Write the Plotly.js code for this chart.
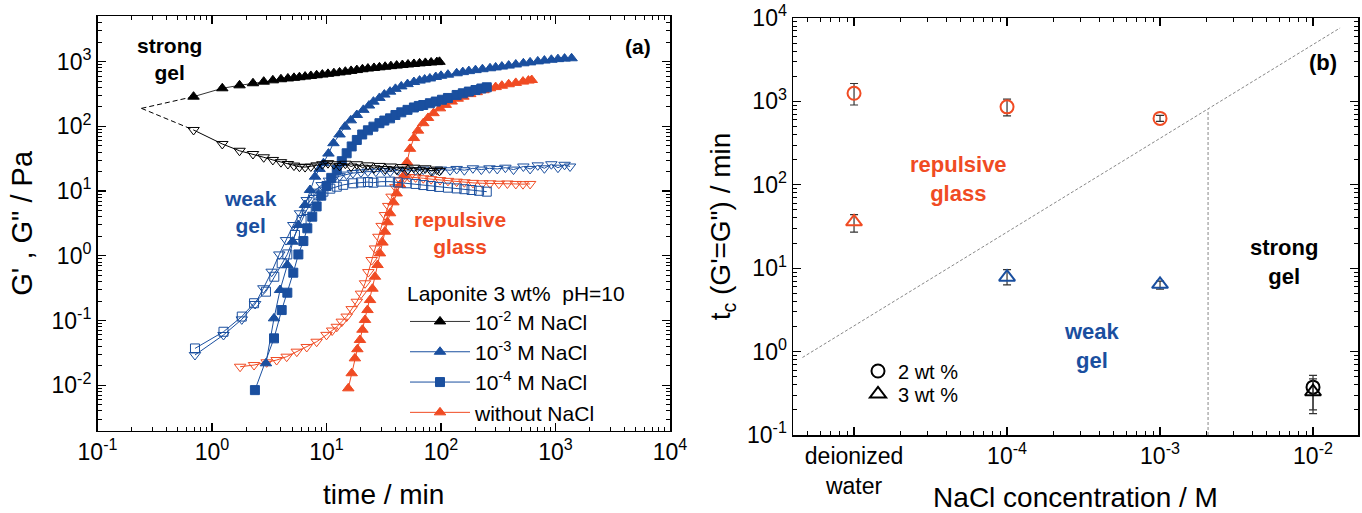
<!DOCTYPE html>
<html><head><meta charset="utf-8">
<script src="https://cdn.plot.ly/plotly-3.0.1.min.js"></script>
<style>html,body{margin:0;padding:0;background:#fff;} #chart{width:1362px;height:513px;}</style>
</head><body><div id="chart"></div>
<script>
// ---------------- Panel (a) data : time / min  vs  G', G'' / Pa ----------------
// 10^-2 M NaCl (strong gel)
const tBlack   = [0.69,1.23,1.74,2.28,2.83,3.4,4.0,4.6,5.2,5.8,6.5,7.3,8.2,9.2,10.3,11.6,13,14.6,16.4,18.4,20.6,23,26,29,32.5,36.5,41,46,51.5,58,65,73,82,92,97];
const gpBlack  = [288,388,431,464,491,515,535,550,563,575,588,602,617,632,648,664,682,700,720,742,764,783,800,818,835,853,870,888,905,922,940,957,972,985,995];
const gppBlack = [88,53.5,42,37.4,33.3,30.3,28,26.2,24.8,23.8,23.5,24,25,26,27,26,24.5,26.5,24,26,23,25,22.5,24.5,22,24,21.5,23.5,21.5,23,21,22.5,20.5,21.5,20.5];
// dashed extrapolation of the strong gel to short times
const tExtrap   = [0.242,0.69];
const gpExtrap  = [190,288];
const gppExtrap = [190,88];
// 10^-3 M NaCl
const tp3  = [2.96,3.48,3.93,4.55,5.07,5.68,6.49,7.18,7.94,8.7,9.4,10.4,11.5,13,14.5,16.3,18.4,21,23.5,25.7,29,32,35.9,40,45,51,58,65,72,80,90,100,115,137,155,175,200,230,268,300,340,390,450,524,600,700,800,920,1050,1200,1382];
const gp3  = [0.0218,0.108,0.296,0.72,1.65,2.99,6.1,10.4,16.7,22,27,38,55,75,99,124,150,180,210,241,275,310,344,380,415,450,485,510,530,550,580,605,630,662,690,715,740,765,791,815,840,870,905,944,975,1010,1040,1070,1095,1115,1129];
const tpp3 = [0.71,1.26,1.82,2.38,2.81,3.32,3.87,4.43,5.13,5.87,6.72,7.67,9.08,10.5,11.5,13,15,17,20,23,27,32,36,42,50,60,70,85,100,120,137,160,190,225,265,310,365,430,524,600,700,800,920,1050,1200,1340];
const gpp3 = [0.0293,0.0597,0.104,0.18,0.315,0.568,1.05,1.75,2.99,4.54,7.27,9.8,12.4,14.5,15.8,17,18,19,19.5,20,20,20.5,20,21,20.5,21,21.5,20.5,21.5,21,22,21,22.5,21.5,22.5,22,23,21.5,24,22,25,22.5,26,23,25.5,24];
// 10^-4 M NaCl
const tp4  = [2.37,3.48,4.06,4.55,5.13,5.68,6.28,6.8,7.51,8.2,9.0,10,11,12.3,13.6,15,16.6,18.4,20.5,23,25.7,29,32,35.9,40,45,51,58,64,70,80,90,102,115,137,155,175,200,225,251];
const gp4  = [0.0084,0.053,0.145,0.269,0.548,1.05,1.69,2.66,4.02,5.8,8.5,12,16,21.2,29,38.4,49,61.7,75,87,99,112,123,133,150,165,180,196,207,214,228,242,258,275,306,325,345,365,385,402];
const tpp4 = [0.71,1.26,1.82,2.33,2.96,3.5,4.06,4.55,5.3,6.06,6.72,7.67,8.5,9.4,10.8,12.3,14,17.1,20,23,25.7,30,35.9,42,50,60,70,82,96,115,137,160,185,215,251];
const gpp4 = [0.037,0.067,0.115,0.185,0.279,0.475,0.766,1.05,2.1,3.57,5.1,7.3,8.6,9.8,10.9,11.7,12.5,13.2,13.6,13.8,13.5,14,14,13.6,13.2,12.9,12.4,12,11.6,11.3,11,10.7,10.4,10.1,9.8];
// without NaCl (repulsive glass)
const tpR  = [15.5,16.6,17.7,18.6,19.6,20.6,21.7,22.8,24,25.2,26.5,27.9,29.3,30.8,32.4,34.1,35.9,38.4,41,44,47.5,50.5,53.6,58,63,70,77,86,98,110,124,140,157,180,205,235,268,300,340,390,450,520,580,620];
const gpR  = [0.00895,0.0153,0.026,0.036,0.05,0.072,0.102,0.145,0.207,0.31,0.475,0.72,1.09,1.6,2.36,3.3,4.54,6.7,9.2,12.5,17.5,28,45,66,86,112,135,160,190,215,242,268,288,315,338,362,388,405,425,448,470,492,510,521];
const tppR = [1.76,2.33,3.0,3.67,4.49,5.5,6.72,8.2,10,11.2,12.3,13.6,15,16.6,18.4,20,21.7,23.2,24.8,26.5,28.4,30.3,32.4,34.6,37,40,43.9,48,53,60,70,82,98,115,137,160,190,230,268,320,380,450,520,600];
const gppR = [0.0193,0.0205,0.0226,0.0245,0.0276,0.033,0.039,0.047,0.06,0.07,0.08,0.096,0.115,0.15,0.195,0.26,0.376,0.56,0.86,1.3,1.97,2.9,4.26,5.9,8.2,11.5,14.9,16.2,16.5,16.3,15.8,15.3,14.8,14.4,14,13.7,13.4,13.2,13.2,13,13.1,12.9,12.8,12.9];

const legendNames = ['10<sup>-2</sup> M NaCl','10<sup>-3</sup> M NaCl','10<sup>-4</sup> M NaCl','without NaCl'];
const legendTitleA = 'Laponite 3 wt%\u00a0\u00a0pH=10';

// ---------------- Panel (b) data : NaCl concentration vs t_c ----------------
const conc2   = [1e-2,1e-5,1e-4,1e-3];          // 2 wt %  (1e-5 = deionized water)
const tc2     = [0.375,1250,860,625];
const err2Up  = [0.095,390,207,55];
const err2Dn  = [0.175,345,189,50];
const conc3   = [1e-2,1e-5,1e-4,1e-3];          // 3 wt %
const tc3     = [0.33,36,7.8,6.4];
const err3Up  = [0.19,8,1.8,0.6];
const err3Dn  = [0.15,9,1.5,0.8];
const phase2  = ['strong','glass','glass','glass'];
const phase3  = ['strong','glass','weak','weak'];
// phase boundaries
const bndDiagX = [4.6e-6,0.01503];
const bndDiagY = [0.85,7600];
const bndVertX = [2.06e-3,2.06e-3];
const bndVertY = [0.1,800];

const tickValsA_x = [0.1,1,10,100,1000,10000];
const tickTextA_x = ['10<sup>-1</sup>','10<sup>0</sup>','10<sup>1</sup>','10<sup>2</sup>','10<sup>3</sup>','10<sup>4</sup>'];
const tickValsA_y = [0.01,0.1,1,10,100,1000];
const tickTextA_y = ['10<sup>-2</sup>','10<sup>-1</sup>','10<sup>0</sup>','10<sup>1</sup>','10<sup>2</sup>','10<sup>3</sup>'];
const tickValsB_x = [1e-5,1e-4,1e-3,1e-2];
const tickTextB_x = ['deionized<br>water','10<sup>-4</sup>','10<sup>-3</sup>','10<sup>-2</sup>'];
const tickValsB_y = [0.1,1,10,100,1000,10000];
const tickTextB_y = ['10<sup>-1</sup>','10<sup>0</sup>','10<sup>1</sup>','10<sup>2</sup>','10<sup>3</sup>','10<sup>4</sup>'];

// ---------------- styling ----------------
const W = 1362, H = 513;
const FONT = 'Arial, "Liberation Sans", Helvetica, sans-serif';
const BLUE = '#1a4f9f', RED = '#f04b23', BLACK = '#000000';
const phaseColor = {strong: BLACK, glass: RED, weak: BLUE};
const fx = v => v / W;
const fy = v => 1 - v / H;

function series(x, y, color, symbol, size, opts) {
  return Object.assign({
    type: 'scatter', mode: 'lines+markers', x: x, y: y,
    xaxis: 'x', yaxis: 'y',
    line: {color: color, width: 1},
    marker: {symbol: symbol, size: size, color: color, line: {width: 1, color: color}},
    showlegend: false
  }, opts || {});
}

const traces = [
  // repulsive glass
  series(tppR, gppR, RED, 'triangle-down-open', 10, {legendgroup: 'g4'}),
  series(tpR, gpR, RED, 'triangle-up', 10, {name: legendNames[3], showlegend: true, legendgroup: 'g4', legendrank: 4}),
  // 10^-4
  series(tpp4, gpp4, BLUE, 'square-open', 9, {legendgroup: 'g3'}),
  series(tp4, gp4, BLUE, 'square', 9, {name: legendNames[2], showlegend: true, legendgroup: 'g3', legendrank: 3}),
  // 10^-3
  series(tpp3, gpp3, BLUE, 'triangle-down-open', 10, {legendgroup: 'g2'}),
  series(tp3, gp3, BLUE, 'triangle-up', 10, {name: legendNames[1], showlegend: true, legendgroup: 'g2', legendrank: 2}),
  // 10^-2
  {type: 'scatter', mode: 'lines', x: tExtrap, y: gpExtrap, xaxis: 'x', yaxis: 'y', line: {color: BLACK, width: 1, dash: '5px,3px'}, showlegend: false},
  {type: 'scatter', mode: 'lines', x: tExtrap, y: gppExtrap, xaxis: 'x', yaxis: 'y', line: {color: BLACK, width: 1, dash: '5px,3px'}, showlegend: false},
  series(tBlack, gppBlack, BLACK, 'triangle-down-open', 10, {legendgroup: 'g1'}),
  series(tBlack, gpBlack, BLACK, 'triangle-up', 10, {name: legendNames[0], showlegend: true, legendgroup: 'g1', legendrank: 1, line: {color: '#333', width: 1}}),

  // panel (b) boundaries
  {type: 'scatter', mode: 'lines', x: bndDiagX, y: bndDiagY, xaxis: 'x2', yaxis: 'y2', line: {color: '#888', width: 1, dash: '3px,2px'}, showlegend: false},
  {type: 'scatter', mode: 'lines', x: bndVertX, y: bndVertY, xaxis: 'x2', yaxis: 'y2', line: {color: '#888', width: 1, dash: '3px,2px'}, showlegend: false},
  // 2 wt %
  {type: 'scatter', mode: 'markers', x: conc2, y: tc2, xaxis: 'x2', yaxis: 'y2', name: '2 wt %', legend: 'legend2',
   marker: {symbol: 'circle-open', size: 13, color: phase2.map(p => phaseColor[p]), line: {width: 2}},
   error_y: {type: 'data', symmetric: false, array: err2Up, arrayminus: err2Dn, color: '#333', thickness: 1.2, width: 4}},
  // 3 wt %
  {type: 'scatter', mode: 'markers', x: conc3, y: tc3, xaxis: 'x2', yaxis: 'y2', name: '3 wt %', legend: 'legend3',
   marker: {symbol: 'triangle-up-open', size: 14, color: phase3.map(p => phaseColor[p]), line: {width: 2}},
   error_y: {type: 'data', symmetric: false, array: err3Up, arrayminus: err3Dn, color: '#333', thickness: 1.2, width: 4}}
];

function logAxis(extra) {
  return Object.assign({
    type: 'log', showline: true, linewidth: 1.5, linecolor: BLACK, mirror: 'allticks',
    ticks: 'inside', ticklen: 8, tickwidth: 1.2, tickcolor: BLACK,
    tickmode: 'array', showgrid: false, zeroline: false,
    tickfont: {family: FONT, size: 23, color: BLACK},
    minor: {ticks: 'inside', ticklen: 4, tickwidth: 1, tickcolor: BLACK, dtick: 'D1', showgrid: false},
    automargin: false
  }, extra);
}

const ann = (text, x, y, color, size) => ({
  text: text, xref: 'paper', yref: 'paper', x: fx(x), y: fy(y), xanchor: 'center', yanchor: 'middle',
  showarrow: false, font: {family: FONT, size: size, color: color}
});

const layout = {
  width: W, height: H,
  margin: {l: 0, r: 0, t: 0, b: 0},
  paper_bgcolor: '#fff', plot_bgcolor: '#fff',
  font: {family: FONT, color: BLACK},
  xaxis: logAxis({domain: [fx(97.5), fx(670)], range: [-1, 4], anchor: 'y',
    tickvals: tickValsA_x, ticktext: tickTextA_x,
    title: {text: 'time / min', font: {family: FONT, size: 28, color: BLACK}, standoff: 20}}),
  yaxis: logAxis({domain: [fy(430.7), fy(16)], range: [-2.703, 3.706], anchor: 'x',
    tickvals: tickValsA_y, ticktext: tickTextA_y,
    title: {text: 'G\' , G" / Pa', font: {family: FONT, size: 29, color: BLACK}, standoff: 10}}),
  xaxis2: logAxis({domain: [fx(793), fx(1358)], range: [-5.399, -1.706], anchor: 'y2',
    tickvals: tickValsB_x, ticktext: tickTextB_x,
    title: {text: 'NaCl concentration / M', font: {family: FONT, size: 28, color: BLACK}, standoff: 6}}),
  yaxis2: logAxis({domain: [fy(435), fy(18)], range: [-1, 4], anchor: 'x2',
    tickvals: tickValsB_y, ticktext: tickTextB_y,
    title: {text: 't<sub>c</sub> (G\'=G") / min', font: {family: FONT, size: 28, color: BLACK}, standoff: 8}}),
  showlegend: true,
  legend: {x: fx(405), y: fy(274), xanchor: 'left', yanchor: 'top', bgcolor: 'rgba(0,0,0,0)',
    font: {family: FONT, size: 21, color: BLACK},
    title: {text: legendTitleA, font: {family: FONT, size: 21, color: BLACK}},
    traceorder: 'grouped', tracegroupgap: 0, itemwidth: 60},
  legend2: {x: fx(858), y: fy(371), xanchor: 'left', yanchor: 'middle', bgcolor: 'rgba(0,0,0,0)',
    font: {family: FONT, size: 20, color: BLACK}},
  legend3: {x: fx(858), y: fy(394), xanchor: 'left', yanchor: 'middle', bgcolor: 'rgba(0,0,0,0)',
    font: {family: FONT, size: 20, color: BLACK}},
  annotations: [
    ann('<b>strong<br>gel</b>', 169, 58.5, BLACK, 21),
    ann('<b>weak<br>gel</b>', 250, 212, BLUE, 21),
    ann('<b>repulsive<br>glass</b>', 460, 233, RED, 21),
    ann('<b>(a)</b>', 638, 47, BLACK, 21),
    ann('<b>(b)</b>', 1323, 63, BLACK, 22),
    ann('<b>repulsive<br>glass</b>', 958, 179, RED, 22),
    ann('<b>weak<br>gel</b>', 1092, 346, BLUE, 22),
    ann('<b>strong<br>gel</b>', 1284, 262, BLACK, 22)
  ]
};

Plotly.newPlot('chart', traces, layout, {staticPlot: true, displayModeBar: false});
</script>
</body></html>
